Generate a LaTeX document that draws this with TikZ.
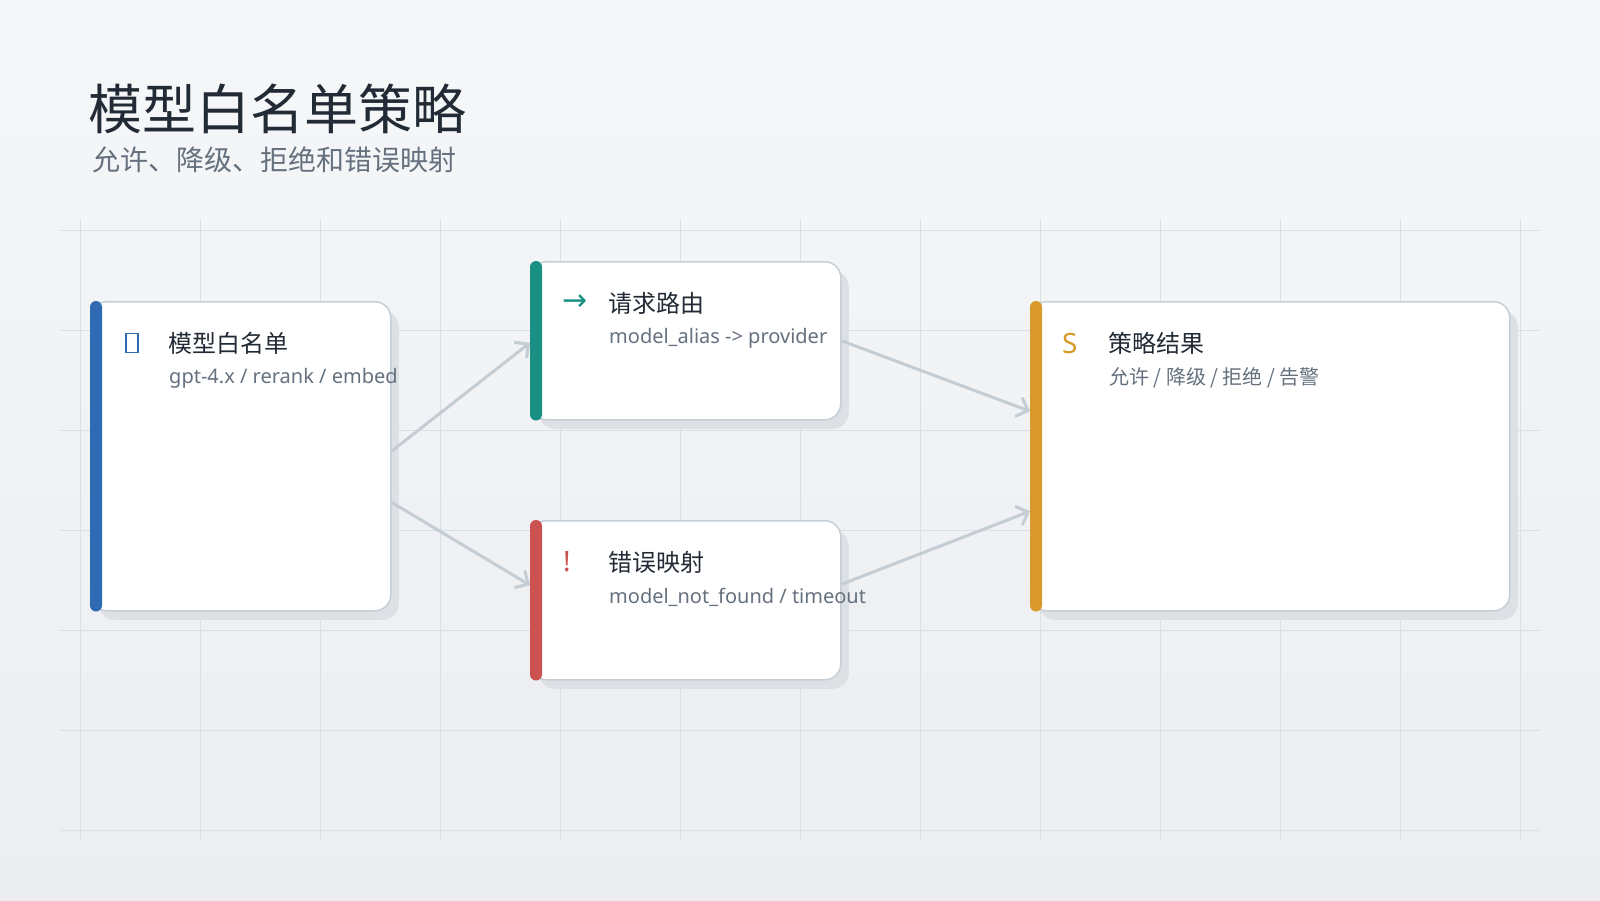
\documentclass[tikz,border=0pt]{standalone}
\usepackage{fontspec}
\setmainfont{Noto Sans}
\newfontfamily\cjk{Noto Sans CJK SC}
\newfontfamily\simbolos{DejaVu Sans}
\usetikzlibrary{arrows.meta,shadows}

\definecolor{fondoA}{HTML}{F6F7F9}
\definecolor{fondoB}{HTML}{EBEDF0}
\definecolor{rejillac}{HTML}{D9DFE4}
\definecolor{bordec}{HTML}{C6CFD6}
\definecolor{sombrac}{HTML}{DDE0E4}
\definecolor{flechac}{HTML}{C3CDD3}
\definecolor{tintac}{HTML}{222B35}
\definecolor{grisc}{HTML}{65717E}
\definecolor{azul}{HTML}{2F6BB3}
\definecolor{verde}{HTML}{1A9084}
\definecolor{rojo}{HTML}{CC5151}
\definecolor{naranja}{HTML}{DA992B}

\tikzstyle{rejilla} = [draw=rejillac, line width=1pt]
\tikzstyle{caja} = [draw=bordec, line width=1.5pt, fill=white, rectangle, rounded corners=16pt, anchor=north west, inner sep=0pt, drop shadow={shadow xshift=8pt, shadow yshift=-9pt, fill=sombrac, opacity=1}]
\tikzstyle{barra} = [rounded corners=6pt]
\tikzstyle{icono} = [anchor=west, inner sep=0pt, font=\fontsize{28}{28}\selectfont]
\tikzstyle{titulo} = [anchor=west, inner sep=0pt, text=tintac, font=\cjk\fontsize{24}{24}\selectfont]
\tikzstyle{subtitulo} = [anchor=west, inner sep=0pt, text=grisc, font=\fontsize{20}{20}\selectfont]
\tikzstyle{flecha} = [draw=flechac, line width=3pt, -{Straight Barb[length=10pt,width=20pt]}]

\begin{document}
\begin{tikzpicture}[x=1pt,y=-1pt]
	\useasboundingbox (0,0) rectangle (1600,900);
	\shade[top color=fondoA, bottom color=fondoB] (0,0) rectangle (1600,900);
	\foreach \x in {80,200,...,1520} \draw[rejilla] (\x,220) -- (\x,840);
	\foreach \y in {230,330,...,830} \draw[rejilla] (60,\y) -- (1540,\y);

	\node[anchor=west, inner sep=0pt, text=tintac, font=\cjk\fontsize{54}{54}\selectfont] (cabecera) at (88,109) {模型白名单策略};
	\node[anchor=west, inner sep=0pt, text=grisc, font=\cjk\fontsize{28}{28}\selectfont] (lema) at (92,160) {允许、降级、拒绝和错误映射};

	% tarjetas
	\node[caja, minimum width=300pt, minimum height=309pt] (lista) at (90,301) {};
	\node[caja, minimum width=310pt, minimum height=158pt] (ruta) at (530,261) {};
	\node[caja, minimum width=310pt, minimum height=159pt] (error) at (530,520) {};
	\node[caja, minimum width=479pt, minimum height=309pt] (result) at (1030,301) {};

	\fill[barra, azul] (lista.north west) rectangle ([xshift=12pt]lista.south west);
	\fill[barra, verde] (ruta.north west) rectangle ([xshift=12pt]ruta.south west);
	\fill[barra, rojo] (error.north west) rectangle ([xshift=12pt]error.south west);
	\fill[barra, naranja] (result.north west) rectangle ([xshift=12pt]result.south west);

	\node[icono, draw=azul, line width=1.8pt, minimum width=12pt, minimum height=19pt] (ilista) at ([xshift=35pt,yshift=-42pt]lista.north west) {};
	\node[titulo] (tlista) at ([xshift=78pt,yshift=-42pt]lista.north west) {模型白名单};
	\node[subtitulo] (slista) at ([xshift=79pt,yshift=-77pt]lista.north west) {gpt-4.x / rerank / embed};

	\node[icono, text=verde, font=\simbolos\fontsize{30}{30}\selectfont] (iruta) at ([xshift=32pt,yshift=-42pt]ruta.north west) {→};
	\node[titulo] (truta) at ([xshift=78pt,yshift=-42pt]ruta.north west) {请求路由};
	\node[subtitulo] (sruta) at ([xshift=79pt,yshift=-77pt]ruta.north west) {model\_alias -> provider};

	\node[icono, text=rojo] (ierror) at ([xshift=33pt,yshift=-42pt]error.north west) {!};
	\node[titulo] (terror) at ([xshift=78pt,yshift=-42pt]error.north west) {错误映射};
	\node[subtitulo] (serror) at ([xshift=79pt,yshift=-77pt]error.north west) {model\_not\_found / timeout};

	\node[icono, text=naranja] (iresult) at ([xshift=32pt,yshift=-42pt]result.north west) {S};
	\node[titulo] (tresult) at ([xshift=78pt,yshift=-42pt]result.north west) {策略结果};
	\node[subtitulo, font=\cjk\fontsize{20}{20}\selectfont] (sresult) at ([xshift=79pt,yshift=-77pt]result.north west) {允许 / 降级 / 拒绝 / 告警};

	% conexiones
	\draw[flecha] ([yshift=5pt]lista.east) -- ([yshift=-2pt]ruta.west);
	\draw[flecha] ([yshift=-46pt]lista.east) -- ([yshift=15pt]error.west);
	\draw[flecha] (ruta.east) -- ([yshift=45pt]result.west);
	\draw[flecha] ([yshift=16pt]error.east) -- ([yshift=-55pt]result.west);
\end{tikzpicture}
\end{document}
